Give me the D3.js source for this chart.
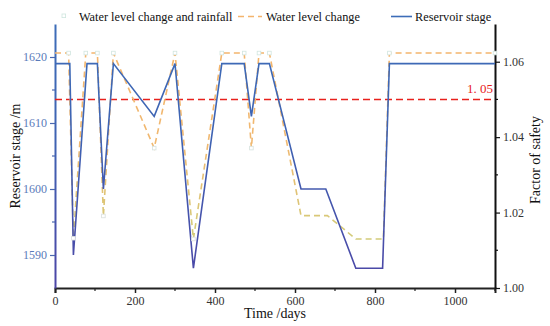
<!DOCTYPE html>
<html lang="en">
<head>
<meta charset="UTF-8">
<title>Reservoir stage and factor of safety</title>
<script src="https://cdn.jsdelivr.net/npm/d3@7"></script>
<style>
    *{ margin: 0; padding: 0; }
    body{ background: #fff; }
</style>
</head>
<body>
<div id="chart"></div>
<script>
// reservoir stage (left axis, m)
var stageDays = [0, 37, 46, 80, 106, 121, 146, 248, 300, 346, 417, 473, 491, 510, 536, 615, 677, 752, 819, 836, 1100];
var stageVals = [1619, 1619, 1590, 1619, 1619, 1600, 1619, 1611, 1619, 1588, 1619, 1619, 1611, 1619, 1619, 1600, 1600, 1588, 1588, 1619, 1619];

// water level change (right axis, factor of safety)
var fosDays = [0, 34, 46, 77, 106, 121, 146, 248, 300, 346, 417, 473, 491, 510, 536, 615, 681, 752, 821, 836, 1100];
var fosVals = [1.0623, 1.0623, 1.0132, 1.0623, 1.0623, 1.0191, 1.0623, 1.0371, 1.0623, 1.0130, 1.0623, 1.0623, 1.0371, 1.0623, 1.0623, 1.0192, 1.0192, 1.0130, 1.0130, 1.0623, 1.0623];

// water level change and rainfall (points)
var rainDays = [34, 46, 77, 106, 121, 146, 248, 300, 346, 417, 473, 491, 510, 536, 836, 1100];
var rainVals = [1.0623, 1.0132, 1.0623, 1.0623, 1.0191, 1.0623, 1.0371, 1.0623, 1.0130, 1.0623, 1.0623, 1.0371, 1.0623, 1.0623, 1.0623, 1.0623];

var safeLine = 1.05;
var xTicks = [0, 200, 400, 600, 800, 1000];
var leftTicks = [1590, 1600, 1610, 1620];
var rightTicks = [1.00, 1.02, 1.04, 1.06];

var width = 550, height = 326;
var padding = {top: 24, right: 55, bottom: 38, left: 55};
var x0 = padding.left, x1 = width - padding.right;
var y0 = height - padding.bottom, y1 = padding.top;
var serif = "Liberation Serif";

var svg = d3.select("#chart").append("svg")
        .attr("width", width).attr("height", height)
        .attr("font-family", serif);

var xScale = d3.scaleLinear().domain([0, 1100]).range([x0, x1]);
var yLeft = d3.scaleLinear().domain([1585, 1625]).range([y0, y1]);
var yRight = d3.scaleLinear().domain([1.00, 1.07]).range([y0, y1]);

/* gradients */
var defs = svg.append("defs");
function grad(id, stops){
    var g = defs.append("linearGradient").attr("id", id)
        .attr("gradientUnits", "userSpaceOnUse")
        .attr("x1", 0).attr("x2", 0).attr("y1", y1).attr("y2", y0);
    stops.forEach(function(s){
        g.append("stop").attr("offset", s[0]).attr("stop-color", s[1]);
    });
}
grad("gBlue", [[0, "#3d6db8"], [0.45, "#3f62b2"], [1, "#4c45a6"]]);
grad("gOrange", [[0, "#f4b46c"], [0.45, "#f0b870"], [0.75, "#d7c978"], [1, "#c6d07c"]]);
grad("gRain", [[0, "#cfe6df"], [1, "#dcdcdc"]]);

/* axes */
var xAxis = d3.axisBottom(xScale).tickValues(xTicks).tickSize(5).tickPadding(3).tickFormat(d3.format("d"));
var gx = svg.append("g").attr("transform", "translate(0," + y0 + ")").call(xAxis)
        .attr("font-family", serif);
gx.select(".domain").attr("stroke", "#222").attr("stroke-width", 2);
gx.selectAll(".tick line").attr("stroke", "#222").attr("stroke-width", 1.5);
gx.selectAll(".tick text").attr("font-size", 12).attr("fill", "#333");
[100, 300, 500, 700, 900, 1100].forEach(function(v){
    svg.append("line").attr("x1", xScale(v)).attr("x2", xScale(v))
        .attr("y1", y0).attr("y2", y0 + 3).attr("stroke", "#222").attr("stroke-width", 1.2);
});

var leftAxis = d3.axisLeft(yLeft).tickValues(leftTicks).tickSize(5).tickPadding(3)
        .tickSizeOuter(0).tickFormat(d3.format("d"));
var gl = svg.append("g").attr("transform", "translate(" + x0 + ",0)").call(leftAxis)
        .attr("font-family", serif);
gl.select(".domain").attr("stroke", "url(#gBlue)").attr("stroke-width", 2);
gl.selectAll(".tick line").attr("stroke", "#4a68b0").attr("stroke-width", 1.2);
gl.selectAll(".tick text").attr("font-size", 12).attr("fill", "#5a7bba");
[1595, 1605, 1615].forEach(function(v){
    svg.append("line").attr("x1", x0 - 3).attr("x2", x0)
        .attr("y1", yLeft(v)).attr("y2", yLeft(v)).attr("stroke", "#4a68b0").attr("stroke-width", 1.2);
});

var rightAxis = d3.axisRight(yRight).tickValues(rightTicks).tickSize(5).tickPadding(3)
        .tickSizeOuter(0).tickFormat(d3.format(".2f"));
var gr = svg.append("g").attr("transform", "translate(" + x1 + ",0)").call(rightAxis)
        .attr("font-family", serif);
gr.select(".domain").attr("stroke", "#111").attr("stroke-width", 2);
gr.selectAll(".tick line").attr("stroke", "#111").attr("stroke-width", 1.2);
gr.selectAll(".tick text").attr("font-size", 12).attr("fill", "#333");
[1.01, 1.03, 1.05].forEach(function(v){
    svg.append("line").attr("x1", x1).attr("x2", x1 + 3)
        .attr("y1", yRight(v)).attr("y2", yRight(v)).attr("stroke", "#111").attr("stroke-width", 1.2);
});

/* axis titles */
svg.append("text").attr("x", (x0 + x1) / 2).attr("y", 318).attr("text-anchor", "middle")
    .attr("font-family", serif).attr("font-size", 14).attr("fill", "#111").text("Time /days");
svg.append("text").attr("transform", "translate(20," + ((y0 + y1) / 2) + ") rotate(-90)")
    .attr("font-family", serif).attr("text-anchor", "middle").attr("font-size", 14).attr("fill", "#111")
    .text("Reservoir stage /m");
svg.append("text").attr("transform", "translate(540," + 160 + ") rotate(-90)")
    .attr("font-family", serif).attr("text-anchor", "middle").attr("font-size", 14).attr("fill", "#111")
    .text("Factor of safety");

/* safety line */
svg.append("line").attr("x1", x0).attr("x2", x1)
    .attr("y1", yRight(safeLine)).attr("y2", yRight(safeLine))
    .attr("stroke", "#e8211c").attr("stroke-width", 1.6).attr("stroke-dasharray", "7,4");
svg.append("text").attr("x", x1 - 2).attr("y", yRight(safeLine) - 6).attr("text-anchor", "end")
    .attr("font-family", serif).attr("font-size", 13).attr("fill", "#e8211c").text("1. 05");

/* series */
var fosLine = d3.line().x(function(d, i){ return xScale(fosDays[i]); })
        .y(function(d){ return yRight(d); });
svg.append("path").attr("d", fosLine(fosVals)).attr("fill", "none")
    .attr("stroke", "url(#gOrange)").attr("stroke-width", 1.6).attr("stroke-dasharray", "6,4");

var stageLine = d3.line().x(function(d, i){ return xScale(stageDays[i]); })
        .y(function(d){ return yLeft(d); });
svg.append("path").attr("d", stageLine(stageVals)).attr("fill", "none")
    .attr("stroke", "url(#gBlue)").attr("stroke-width", 1.6);

svg.selectAll("rect.rain").data(rainVals).enter().append("rect").attr("class", "rain")
    .attr("x", function(d, i){ return xScale(rainDays[i]) - 1.8; })
    .attr("y", function(d){ return yRight(d) - 1.8; })
    .attr("width", 3.6).attr("height", 3.6)
    .attr("fill", "#fff").attr("stroke", "url(#gRain)").attr("stroke-width", 0.8);

/* legend */
var lg = svg.append("g").attr("font-family", serif).attr("font-size", 12.3).attr("fill", "#111");
lg.append("rect").attr("x", 62).attr("y", 14).attr("width", 3.6).attr("height", 3.6)
    .attr("fill", "#fff").attr("stroke", "#cfe6df").attr("stroke-width", 0.8);
lg.append("text").attr("x", 79).attr("y", 21).text("Water level change and rainfall");
lg.append("line").attr("x1", 238).attr("x2", 262).attr("y1", 16.5).attr("y2", 16.5)
    .attr("stroke", "#f4b46c").attr("stroke-width", 1.6).attr("stroke-dasharray", "6,4");
lg.append("text").attr("x", 266).attr("y", 21).text("Water level change");
lg.append("line").attr("x1", 391).attr("x2", 412).attr("y1", 16.5).attr("y2", 16.5)
    .attr("stroke", "#3d6db8").attr("stroke-width", 1.6);
lg.append("text").attr("x", 415).attr("y", 21).text("Reservoir stage");
</script>
</body>
</html>
